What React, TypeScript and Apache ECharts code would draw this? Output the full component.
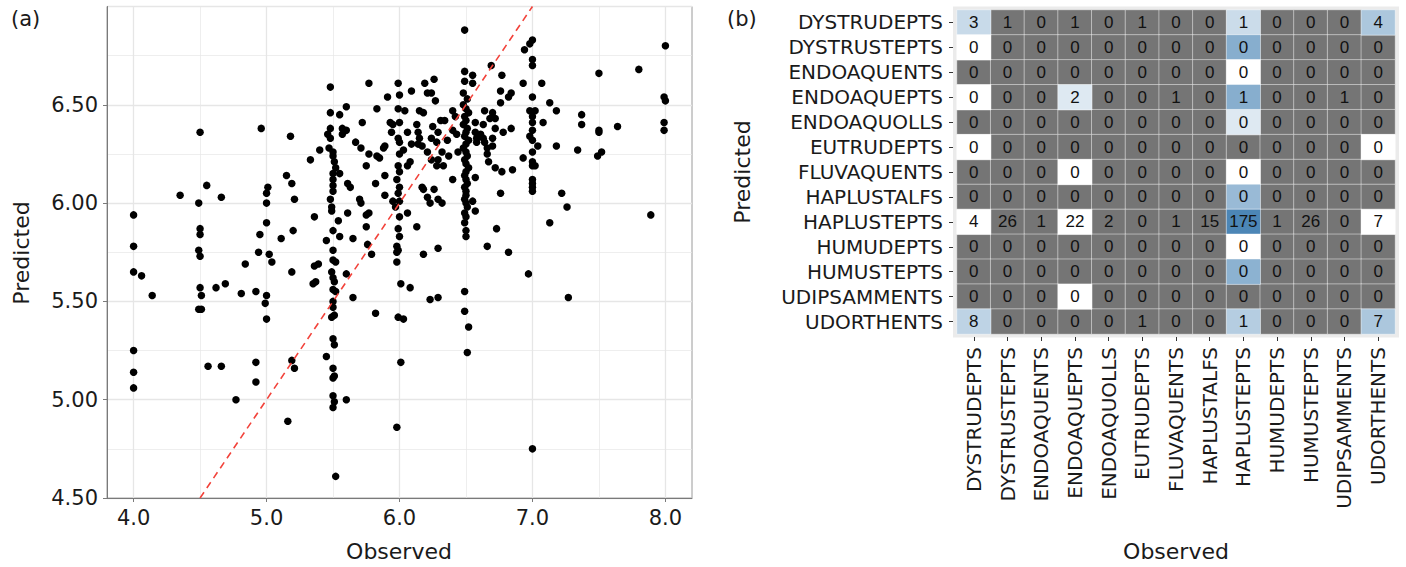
import React, { useEffect, useRef } from 'react';
import * as echarts from 'echarts';

// ---------- Data ----------
const soilClasses = [
  'DYSTRUDEPTS', 'DYSTRUSTEPTS', 'ENDOAQUENTS', 'ENDOAQUEPTS', 'ENDOAQUOLLS',
  'EUTRUDEPTS', 'FLUVAQUENTS', 'HAPLUSTALFS', 'HAPLUSTEPTS', 'HUMUDEPTS',
  'HUMUSTEPTS', 'UDIPSAMMENTS', 'UDORTHENTS',
];

// rows = predicted, columns = observed
const confusionCounts: number[][] = [
  [3, 1, 0, 1, 0, 1, 0, 0, 1, 0, 0, 0, 4],
  [0, 0, 0, 0, 0, 0, 0, 0, 0, 0, 0, 0, 0],
  [0, 0, 0, 0, 0, 0, 0, 0, 0, 0, 0, 0, 0],
  [0, 0, 0, 2, 0, 0, 1, 0, 1, 0, 0, 1, 0],
  [0, 0, 0, 0, 0, 0, 0, 0, 0, 0, 0, 0, 0],
  [0, 0, 0, 0, 0, 0, 0, 0, 0, 0, 0, 0, 0],
  [0, 0, 0, 0, 0, 0, 0, 0, 0, 0, 0, 0, 0],
  [0, 0, 0, 0, 0, 0, 0, 0, 0, 0, 0, 0, 0],
  [4, 26, 1, 22, 2, 0, 1, 15, 175, 1, 26, 0, 7],
  [0, 0, 0, 0, 0, 0, 0, 0, 0, 0, 0, 0, 0],
  [0, 0, 0, 0, 0, 0, 0, 0, 0, 0, 0, 0, 0],
  [0, 0, 0, 0, 0, 0, 0, 0, 0, 0, 0, 0, 0],
  [8, 0, 0, 0, 0, 1, 0, 0, 1, 0, 0, 0, 7],
];

// fill level of each cell (null = not available, drawn grey)
const n = null;
const cellFill: (number | null)[][] = [
  [0.3, n, n, n, n, n, n, n, 0.28, n, n, n, 0.45],
  [0, n, n, n, n, n, n, n, 0.65, n, n, n, n],
  [n, n, n, n, n, n, n, n, 0, n, n, n, n],
  [0, n, n, 0.18, n, n, n, n, 0.65, n, n, n, n],
  [n, n, n, n, n, n, n, n, 0.18, n, n, n, n],
  [0, n, n, n, n, n, n, n, n, n, n, n, 0],
  [n, n, n, 0, n, n, n, n, 0, n, n, n, n],
  [n, n, n, n, n, n, n, n, 0.55, n, n, n, n],
  [0, n, n, 0, n, n, n, n, 0.97, n, n, n, 0],
  [n, n, n, n, n, n, n, n, 0, n, n, n, n],
  [n, n, n, n, n, n, n, n, 0.62, n, n, n, n],
  [n, n, n, 0, n, n, n, n, n, n, n, n, n],
  [0.35, n, n, n, n, n, n, n, 0.4, n, n, n, 0.45],
];

// [observed, predicted]
const observedPredicted: [number, number][] = [
  [4.0, 5.94], [4.0, 5.78], [4.0, 5.65], [4.0, 5.25], [4.0, 5.14], [4.0, 5.06], [4.06, 5.63], [4.14, 5.53],
  [4.35, 6.04], [4.49, 6.0], [4.5, 6.36], [4.55, 6.09], [4.66, 6.03], [4.5, 5.87], [4.5, 5.84], [4.49, 5.76],
  [4.5, 5.73], [4.5, 5.57], [4.51, 5.53], [4.49, 5.46], [4.51, 5.46], [4.62, 5.57], [4.69, 5.59], [4.56, 5.17],
  [4.66, 5.17], [4.77, 5.0], [4.84, 5.69], [4.81, 5.54], [4.92, 5.55], [5.0, 5.53], [4.99, 5.49], [5.0, 5.41],
  [4.92, 5.19], [4.92, 5.09], [4.96, 6.38], [5.0, 6.05], [5.01, 6.08], [5.0, 6.0], [4.95, 5.84], [5.0, 5.9],
  [4.94, 5.75], [5.02, 5.74], [5.04, 5.7],
  [5.16, 4.89], [5.18, 6.34], [5.15, 6.14], [5.19, 6.1], [5.21, 6.02], [5.2, 5.86], [5.11, 5.82], [5.19, 5.65],
  [5.33, 6.22], [5.36, 5.93], [5.36, 5.68], [5.39, 5.69], [5.35, 5.59], [5.37, 5.6], [5.19, 5.2], [5.21, 5.16],
  [5.45, 5.22], [5.45, 5.81], [5.4, 6.27], [5.47, 6.28],
  [5.48, 6.59], [5.48, 6.46], [5.55, 6.45], [5.48, 6.38], [5.46, 6.35], [5.48, 6.33], [5.5, 6.26], [5.5, 6.24],
  [5.51, 6.21], [5.52, 6.18], [5.5, 6.15], [5.55, 6.15], [5.5, 6.12], [5.5, 6.09], [5.5, 6.06], [5.48, 6.02],
  [5.49, 5.98], [5.49, 5.96], [5.54, 5.91], [5.5, 5.86], [5.55, 5.83], [5.5, 5.76], [5.5, 5.71], [5.52, 5.7],
  [5.49, 5.65], [5.5, 5.62], [5.51, 5.6], [5.5, 5.56], [5.52, 5.55], [5.5, 5.5], [5.5, 5.47], [5.51, 5.43],
  [5.49, 5.42], [5.5, 5.31], [5.51, 5.28], [5.5, 5.16], [5.51, 5.12], [5.5, 5.11], [5.5, 5.02], [5.51, 4.99],
  [5.5, 4.96], [5.52, 4.61],
  [5.57, 6.38], [5.6, 6.37], [5.57, 6.35], [5.6, 6.49], [5.77, 6.61], [5.91, 6.54], [5.83, 6.48], [5.72, 6.41],
  [5.67, 6.31], [5.71, 6.28], [5.77, 6.25], [5.75, 6.19], [5.83, 6.24], [5.85, 6.23], [5.88, 6.28], [5.89, 6.29],
  [5.61, 6.1], [5.63, 6.08], [5.82, 6.1], [5.89, 6.14], [5.89, 6.04], [5.7, 6.02], [5.71, 6.0], [5.61, 5.95],
  [5.77, 5.95], [5.95, 6.01], [5.97, 5.98], [5.75, 5.94], [5.65, 5.82], [5.75, 5.88], [5.76, 5.79], [5.79, 5.74],
  [5.6, 5.64], [5.65, 5.52], [5.82, 5.44], [5.6, 5.0], [5.95, 6.4], [5.93, 6.41], [5.94, 6.36],
  [5.99, 6.61], [6.0, 6.55], [5.99, 6.48], [6.0, 6.41], [5.99, 6.33], [6.0, 6.31], [6.0, 6.25], [5.99, 6.19],
  [6.0, 6.16], [5.98, 6.12], [6.0, 6.08], [5.99, 6.05], [6.0, 6.01], [6.0, 5.93], [5.99, 5.87], [6.0, 5.83],
  [5.98, 5.78], [5.99, 5.76], [5.98, 5.75], [5.98, 5.7], [6.01, 5.59], [5.99, 5.42], [6.03, 5.41], [6.01, 5.19],
  [5.98, 4.86],
  [6.04, 6.47], [6.09, 6.57], [6.19, 6.61], [6.26, 6.63], [6.21, 6.56], [6.24, 6.56], [6.27, 6.52], [6.15, 6.47],
  [6.18, 6.46], [6.4, 6.47], [6.42, 6.44], [6.31, 6.42], [6.34, 6.42], [6.25, 6.39], [6.13, 6.4], [6.4, 6.37],
  [6.06, 6.36], [6.14, 6.36], [6.15, 6.33], [6.14, 6.3], [6.17, 6.29], [6.24, 6.33], [6.29, 6.36], [6.28, 6.31],
  [6.03, 6.27], [6.09, 6.3], [6.21, 6.26], [6.24, 6.22], [6.29, 6.22], [6.28, 6.19], [6.32, 6.26], [6.36, 6.32],
  [6.37, 6.24], [6.33, 6.19], [6.4, 6.12], [6.06, 6.19], [6.08, 6.21], [6.17, 6.08], [6.18, 6.07], [6.21, 6.03],
  [6.23, 6.0], [6.26, 6.07], [6.29, 6.02], [6.32, 6.0], [6.06, 5.95], [6.44, 6.26], [6.43, 6.35], [6.13, 5.88],
  [6.29, 5.77], [6.18, 5.74], [6.08, 5.57], [6.23, 5.51], [6.29, 5.52],
  [6.49, 6.88], [6.49, 6.67], [6.49, 6.62], [6.48, 6.56], [6.51, 6.53], [6.48, 6.5], [6.5, 6.48], [6.52, 6.46],
  [6.49, 6.44], [6.5, 6.42], [6.48, 6.4], [6.51, 6.38], [6.5, 6.36], [6.49, 6.34], [6.52, 6.32], [6.5, 6.3],
  [6.48, 6.28], [6.5, 6.26], [6.51, 6.24], [6.49, 6.22], [6.5, 6.2], [6.52, 6.18], [6.5, 6.16], [6.49, 6.14],
  [6.5, 6.12], [6.51, 6.1], [6.49, 6.08], [6.5, 6.06], [6.5, 6.04], [6.49, 6.02], [6.5, 6.0], [6.51, 5.98],
  [6.49, 5.95], [6.5, 5.93], [6.49, 5.9], [6.5, 5.86], [6.5, 5.83], [6.49, 5.55], [6.49, 5.45], [6.52, 5.37],
  [6.51, 5.24],
  [6.55, 6.65], [6.55, 6.61], [6.57, 6.41], [6.57, 6.36], [6.58, 6.33], [6.58, 6.31], [6.57, 6.13], [6.55, 6.01],
  [6.57, 5.96], [6.61, 6.35], [6.63, 6.33], [6.64, 6.31], [6.66, 6.28], [6.7, 6.33], [6.7, 6.29], [6.66, 6.25],
  [6.67, 6.21], [6.72, 6.18], [6.77, 6.16], [6.85, 6.17], [6.76, 6.05], [6.93, 6.23], [6.69, 6.7], [6.77, 6.65],
  [6.93, 6.61], [6.76, 6.57], [6.82, 6.54], [6.84, 6.56], [6.64, 6.47], [6.7, 6.46], [6.68, 6.43], [6.72, 6.43],
  [6.76, 6.51], [6.63, 6.4], [6.72, 6.38], [6.78, 6.36], [6.84, 6.38], [6.73, 5.87], [6.66, 5.78], [6.82, 5.75],
  [6.97, 5.64], [6.94, 6.78],
  [7.0, 6.83], [6.98, 6.81], [7.0, 6.73], [7.0, 6.7], [7.0, 6.54], [6.98, 6.47], [7.02, 6.47], [7.0, 6.44],
  [7.0, 6.41], [7.0, 6.37], [6.98, 6.34], [7.0, 6.32], [7.0, 6.26], [7.0, 6.21], [7.0, 6.19], [7.02, 6.19],
  [7.0, 6.12], [7.0, 6.1], [7.0, 6.08], [7.0, 6.06], [7.0, 4.75],
  [7.07, 6.61], [7.08, 6.41], [7.04, 6.29], [7.13, 6.51], [7.18, 6.47], [7.18, 6.29], [7.34, 6.27], [7.37, 6.45],
  [7.37, 6.4], [7.5, 6.37], [7.5, 6.36], [7.49, 6.24], [7.52, 6.26], [7.64, 6.39], [7.5, 6.66], [7.8, 6.68],
  [8.0, 6.8], [7.99, 6.54], [8.0, 6.52], [7.99, 6.41], [7.99, 6.37], [7.22, 6.05], [7.26, 5.98], [7.13, 5.9],
  [7.89, 5.94], [7.27, 5.52],
];

const xMajorTicks = [4, 5, 6, 7, 8];
const xMinorTicks = [4.5, 5.5, 6.5, 7.5];
const oneToOneLine: [number, number][] = [[4.5, 4.5], [7, 7]];

// ---------- Component ----------
const FONT = 'DejaVu Sans';
const TXT = '#1a1a1a';
const GRIDC = '#e6e6e6';

export default function App() {
  const ref = useRef<HTMLDivElement>(null);

  useEffect(() => {
    document.body.style.margin = '0';
    const chart = echarts.init(ref.current!, null, { renderer: 'svg' });

    const naCells: any[] = [];
    const fillCells: any[] = [];
    confusionCounts.forEach((row, r) => {
      row.forEach((count, c) => {
        const f = cellFill[r][c];
        if (f === null) naCells.push([c, r, count]);
        else fillCells.push([c, r, f, count]);
      });
    });

    const cellLabel = {
      show: true,
      fontSize: 17,
      fontFamily: 'Liberation Sans',
      color: '#111',
    };

    const option: any = {
      animation: false,
      backgroundColor: '#ffffff',
      textStyle: { fontFamily: FONT },
      grid: [
        { left: 107, top: 6.5, width: 585, height: 491.5, show: true, borderColor: '#9a9a9a', borderWidth: 1, backgroundColor: '#fff', containLabel: false },
        { left: 957, top: 10, width: 438, height: 324, containLabel: false },
      ],
      xAxis: [
        {
          type: 'value', gridIndex: 0, min: 3.8, max: 8.2,
          axisLine: { show: true, lineStyle: { color: '#7a7a7a', width: 1 } },
          axisTick: { show: true, customValues: xMajorTicks, length: 4, lineStyle: { color: '#7a7a7a' } },
          axisLabel: { customValues: xMajorTicks, formatter: (v: number) => v.toFixed(1), fontSize: 21, color: TXT, margin: 9, fontFamily: FONT },
          splitLine: { show: false },
        },
        {
          type: 'category', gridIndex: 1, data: soilClasses, offset: 3,
          axisLine: { show: false },
          axisTick: { show: true, alignWithLabel: true, length: 4, lineStyle: { color: '#333' } },
          axisLabel: { rotate: 90, interval: 0, fontSize: 20, color: TXT, margin: 10, fontFamily: FONT },
          splitLine: { show: false },
        },
      ],
      yAxis: [
        {
          type: 'value', gridIndex: 0, min: 4.5, max: 7.0, interval: 0.5,
          axisLine: { show: true, lineStyle: { color: '#7a7a7a', width: 1 } },
          axisTick: { show: true, length: 4, lineStyle: { color: '#7a7a7a' } },
          axisLabel: { formatter: (v: number) => v.toFixed(2), showMaxLabel: false, fontSize: 21, color: TXT, margin: 9, fontFamily: FONT },
          splitLine: { show: true, lineStyle: { color: GRIDC, width: 1.3 } },
          minorTick: { show: false, splitNumber: 2 },
          minorSplitLine: { show: true, lineStyle: { color: GRIDC, width: 0.7 } },
        },
        {
          type: 'category', gridIndex: 1, data: soilClasses, inverse: true, offset: 4,
          axisLine: { show: false },
          axisTick: { show: true, alignWithLabel: true, length: 4, lineStyle: { color: '#333' } },
          axisLabel: { interval: 0, fontSize: 20, color: TXT, margin: 10, fontFamily: FONT },
          splitLine: { show: false },
        },
      ],
      visualMap: [
        { type: 'continuous', show: false, seriesIndex: 3, dimension: 2, min: 0, max: 200, inRange: { color: ['#757575', '#757575'] } },
        { type: 'continuous', show: false, seriesIndex: 4, dimension: 2, min: 0, max: 1, inRange: { color: ['#ffffff', '#4682b4'] } },
      ],
      series: [
        {
          type: 'line', xAxisIndex: 0, yAxisIndex: 0, data: [], z: 1, silent: true,
          markLine: {
            z: 1, silent: true, symbol: ['none', 'none'], label: { show: false }, animation: false,
            lineStyle: { color: GRIDC, type: 'solid', width: 1.3 },
            data: [
              ...xMajorTicks.map((v) => ({ xAxis: v, lineStyle: { color: GRIDC, type: 'solid', width: 1.3 } })),
              ...xMinorTicks.map((v) => ({ xAxis: v, lineStyle: { color: GRIDC, type: 'solid', width: 0.7 } })),
            ],
          },
        },
        {
          type: 'scatter', xAxisIndex: 0, yAxisIndex: 0, data: observedPredicted, z: 3,
          symbolSize: 7.5, itemStyle: { color: '#000000', opacity: 1 },
        },
        {
          type: 'line', xAxisIndex: 0, yAxisIndex: 0, data: oneToOneLine, z: 4,
          symbol: 'none', lineStyle: { color: '#f2433b', width: 1.6, type: [7, 5] },
        },
        {
          type: 'heatmap', xAxisIndex: 1, yAxisIndex: 1, data: naCells,
          itemStyle: { borderColor: 'rgba(255,255,255,0.45)', borderWidth: 1 },
          label: { ...cellLabel, formatter: (p: any) => String(p.data[2]) },
          emphasis: { disabled: true },
        },
        {
          type: 'heatmap', xAxisIndex: 1, yAxisIndex: 1, data: fillCells,
          itemStyle: { borderColor: 'rgba(255,255,255,0.45)', borderWidth: 1 },
          label: { ...cellLabel, formatter: (p: any) => String(p.data[3]) },
          emphasis: { disabled: true },
        },
      ],
      graphic: [
        { type: 'rect', z: -10, shape: { x: 953, y: 6.5, width: 446, height: 331 }, style: { fill: '#ebebeb' } },
        { type: 'text', x: 11, y: 19, style: { text: '(a)', fontSize: 21, fontFamily: FONT, fill: TXT, align: 'left', verticalAlign: 'middle', textAlign: 'left', textVerticalAlign: 'middle' } },
        { type: 'text', x: 727, y: 19, style: { text: '(b)', fontSize: 21, fontFamily: FONT, fill: TXT, align: 'left', verticalAlign: 'middle', textAlign: 'left', textVerticalAlign: 'middle' } },
        { type: 'text', x: 21, y: 253, rotation: Math.PI / 2, style: { text: 'Predicted', fontSize: 22, fontFamily: FONT, fill: TXT, align: 'center', verticalAlign: 'middle', textAlign: 'center', textVerticalAlign: 'middle' } },
        { type: 'text', x: 399, y: 551, style: { text: 'Observed', fontSize: 22, fontFamily: FONT, fill: TXT, align: 'center', verticalAlign: 'middle', textAlign: 'center', textVerticalAlign: 'middle' } },
        { type: 'text', x: 742, y: 172, rotation: Math.PI / 2, style: { text: 'Predicted', fontSize: 22, fontFamily: FONT, fill: TXT, align: 'center', verticalAlign: 'middle', textAlign: 'center', textVerticalAlign: 'middle' } },
        { type: 'text', x: 1176, y: 551, style: { text: 'Observed', fontSize: 22, fontFamily: FONT, fill: TXT, align: 'center', verticalAlign: 'middle', textAlign: 'center', textVerticalAlign: 'middle' } },
      ],
    };

    chart.setOption(option);
    return () => chart.dispose();
  }, []);

  return <div ref={ref} style={{ width: 1406, height: 567, position: 'absolute', left: 0, top: 0 }} />;
}
